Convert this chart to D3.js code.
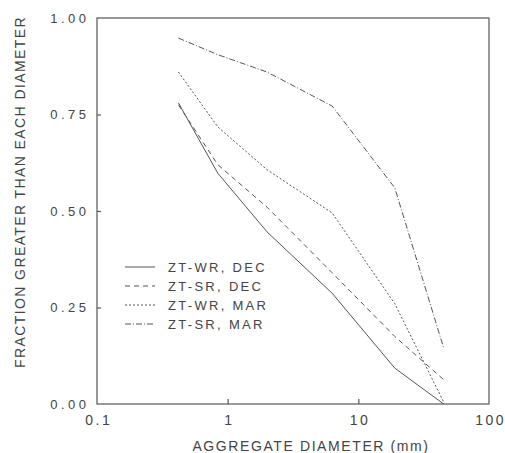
<!DOCTYPE html>
<html>
<head>
<meta charset="utf-8">
<script src="https://cdn.jsdelivr.net/npm/d3@7"></script>
<style>
  body { margin: 0; background: #fff; }
  text { font-family: "Liberation Sans", Arial, sans-serif; fill: #444; }
</style>
</head>
<body>
<div id="chart"></div>
<script>
var diameters = [0.42, 0.84, 2.0, 6.3, 19, 45];
var wrDec = [0.78, 0.598, 0.446, 0.287, 0.093, 0.0];
var srDec = [0.775, 0.62, 0.51, 0.34, 0.175, 0.063];
var wrMar = [0.86, 0.718, 0.607, 0.495, 0.26, 0.005];
var srMar = [0.948, 0.905, 0.86, 0.772, 0.56, 0.145];
var seriesNames = ["ZT-WR, DEC", "ZT-SR, DEC", "ZT-WR, MAR", "ZT-SR, MAR"];
var xTicks = [0.1, 1, 10, 100];
var yTicks = [0, 0.25, 0.5, 0.75, 1];

var series = [
  { name: seriesNames[0], values: wrDec, dash: null },
  { name: seriesNames[1], values: srDec, dash: "5,4" },
  { name: seriesNames[2], values: wrMar, dash: "2,2" },
  { name: seriesNames[3], values: srMar, dash: "6,2,1,2" }
];

var width = 505, height = 453;
var margin = { top: 18, right: 16, bottom: 49, left: 97 };
var chartWidth = width - margin.left - margin.right;
var chartHeight = height - margin.top - margin.bottom;
var ink = "#555";

var svg = d3.select("#chart")
  .append("svg")
  .attr("width", width)
  .attr("height", height);

var g = svg.append("g")
  .attr("transform", `translate(${margin.left}, ${margin.top})`);

var xScale = d3.scaleLog().domain([0.1, 100]).range([0, chartWidth]);
var yScale = d3.scaleLinear().domain([0, 1]).range([chartHeight, 0]);

// frame
g.append("rect")
  .attr("width", chartWidth)
  .attr("height", chartHeight)
  .attr("fill", "none")
  .attr("stroke", ink)
  .attr("stroke-width", 1.2);

var xAxis = d3.axisBottom(xScale)
  .tickValues(xTicks)
  .tickFormat(d => d3.format("~g")(d))
  .tickSizeInner(-5)
  .tickSizeOuter(0)
  .tickPadding(11);

var yAxis = d3.axisLeft(yScale)
  .tickValues(yTicks)
  .tickFormat(d3.format(".2f"))
  .tickSizeInner(-4)
  .tickSizeOuter(0)
  .tickPadding(7.5);

var gx = g.append("g")
  .attr("class", "x axis")
  .attr("transform", `translate(0, ${chartHeight})`)
  .call(xAxis);

var gy = g.append("g")
  .attr("class", "y axis")
  .call(yAxis);

[gx, gy].forEach(ax => {
  ax.select(".domain").remove();
  ax.selectAll("line").attr("stroke", ink).attr("stroke-width", 1.2);
  ax.selectAll("text").attr("fill", "#444");
});
gy.selectAll("text")
  .style("font-size", "13px")
  .style("letter-spacing", "3.5px");
gx.selectAll("text")
  .attr("dx", "1.2px")
  .style("font-size", "14px")
  .style("letter-spacing", "2.5px");

// hide inner ticks at the frame ends
gx.selectAll(".tick").filter(d => d === 0.1 || d === 100).select("line").remove();
gy.selectAll(".tick").filter(d => d === 0 || d === 1).select("line").remove();

var line = d3.line()
  .x((d, i) => xScale(diameters[i]))
  .y(d => yScale(d));

g.selectAll(".series")
  .data(series)
  .enter()
  .append("path")
  .attr("class", "series")
  .attr("d", d => line(d.values))
  .attr("fill", "none")
  .attr("stroke", ink)
  .attr("stroke-width", 1)
  .attr("stroke-dasharray", d => d.dash);

// legend
var legend = g.append("g").attr("transform", "translate(28, 249)");
var rows = legend.selectAll(".row")
  .data(series)
  .enter()
  .append("g")
  .attr("transform", (d, i) => `translate(0, ${i * 19})`);

rows.append("line")
  .attr("x1", 0).attr("x2", 30)
  .attr("y1", 0).attr("y2", 0)
  .attr("stroke", ink)
  .attr("stroke-width", 1)
  .attr("stroke-dasharray", d => d.dash);

rows.append("text")
  .attr("x", 43)
  .attr("y", 5)
  .style("font-size", "13px")
  .style("letter-spacing", "2.3px")
  .text(d => d.name);

// axis titles
svg.append("text")
  .attr("x", 311)
  .attr("y", 451)
  .attr("text-anchor", "middle")
  .style("font-size", "14px")
  .style("letter-spacing", "1.6px")
  .text("AGGREGATE DIAMETER (mm)");

svg.append("text")
  .attr("transform", "translate(25, 192) rotate(-90)")
  .attr("text-anchor", "middle")
  .style("font-size", "14px")
  .style("letter-spacing", "1.4px")
  .text("FRACTION GREATER THAN EACH DIAMETER");
</script>
</body>
</html>
